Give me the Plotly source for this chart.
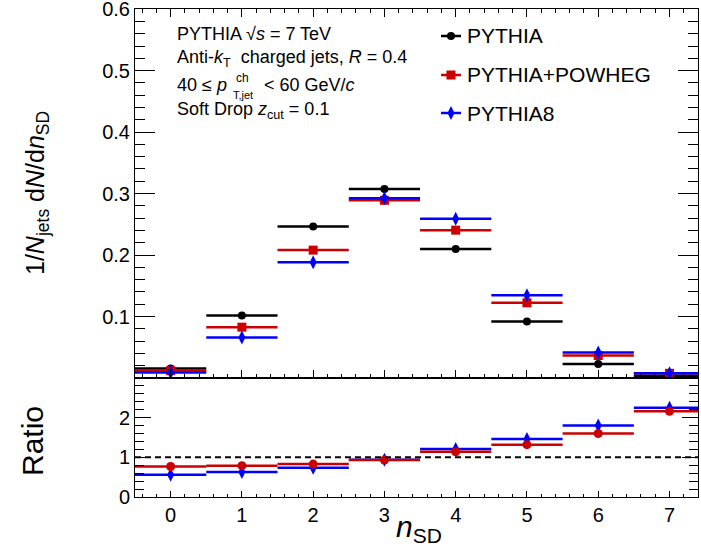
import plotly.graph_objects as go

# ---------------- data ----------------
n_sd = [0, 1, 2, 3, 4, 5, 6, 7]
bin_half_width = [0.5] * 8
pythia = [0.0155, 0.1016, 0.2464, 0.3076, 0.2100, 0.0919, 0.0226, 0.0035]
pythia_powheg = [0.0120, 0.0827, 0.2080, 0.2890, 0.2405, 0.1223, 0.0366, 0.0076]
pythia8 = [0.0090, 0.0659, 0.1884, 0.2925, 0.2589, 0.1348, 0.0415, 0.0079]
ratio_powheg = [0.77, 0.79, 0.83, 0.93, 1.14, 1.32, 1.60, 2.16]
ratio_pythia8 = [0.56, 0.63, 0.74, 0.94, 1.21, 1.46, 1.80, 2.25]
upper_ticks = [0.1, 0.2, 0.3, 0.4, 0.5, 0.6]
upper_ticktext = ["0.1", "0.2", "0.3", "0.4", "0.5", "0.6"]
ratio_ticks = [0, 1, 2]
legend_names = ["PYTHIA", "PYTHIA+POWHEG", "PYTHIA8"]

# ---------------- layout geometry ----------------
W, H = 701, 554
L, R, T, B = 135, 3, 9, 57
PW, PH = W - L - R, H - T - B
SPLIT = 378
split_dom = (H - B - SPLIT) / PH
FONT = "Liberation Sans, Arial, Helvetica, sans-serif"

BLACK = "#000000"
RED = "#cc0000"
BLUE = "#0000ff"


def px(x):
    return (x - L) / PW


def py(y):
    return (H - B - y) / PH


fig = go.Figure()


def add_series(x, y, color, symbol, size, xa, ya, lw=2.5):
    fig.add_trace(go.Scatter(
        x=x, y=y, mode="markers",
        marker=dict(symbol=symbol, size=size, color=color, line=dict(width=0)),
        error_x=dict(type="data", array=bin_half_width, width=0, thickness=lw, color=color),
        xaxis=xa, yaxis=ya, showlegend=False, cliponaxis=True,
    ))


# upper panel
add_series(n_sd, pythia, BLACK, "circle", 8, "x", "y")
add_series(n_sd, pythia_powheg, RED, "square", 9, "x", "y")
add_series(n_sd, pythia8, BLUE, "diamond-tall", 10, "x", "y")
# ratio panel
add_series(n_sd, ratio_pythia8, BLUE, "diamond-tall", 10, "x2", "y2")
add_series(n_sd, ratio_powheg, RED, "circle", 9, "x2", "y2")

# legend (manual, in pixel overlay axes)
leg_y = [36, 75, 113]
leg_cols = [BLACK, RED, BLUE]
leg_sym = ["circle", "square", "diamond-tall"]
leg_size = [8, 9, 10]
for yy, c, s, sz in zip(leg_y, leg_cols, leg_sym, leg_size):
    fig.add_trace(go.Scatter(x=[441, 461], y=[yy, yy], mode="lines",
                             line=dict(color=c, width=2.5), xaxis="x3", yaxis="y3",
                             showlegend=False, hoverinfo="skip"))
    fig.add_trace(go.Scatter(x=[451], y=[yy], mode="markers",
                             marker=dict(symbol=s, size=sz, color=c), xaxis="x3", yaxis="y3",
                             showlegend=False, hoverinfo="skip"))

ax_common = dict(showline=True, linecolor="black", linewidth=1, showgrid=False, zeroline=False,
                 tickcolor="black", tickwidth=1, automargin=False,
                 tickfont=dict(family=FONT, size=20, color="black"))

fig.update_layout(
    width=W, height=H, autosize=False,
    margin=dict(l=L, r=R, t=T, b=B, pad=0, autoexpand=False),
    paper_bgcolor="white", plot_bgcolor="rgba(0,0,0,0)",
    font=dict(family=FONT, color="black"),
    showlegend=False,
    xaxis=dict(domain=[0, 1], anchor="y", range=[-0.5, 7.4], showticklabels=False,
               ticks="inside", ticklen=8, tick0=0, dtick=1, mirror="ticks",
               minor=dict(ticks="inside", ticklen=4, tick0=0, dtick=0.2, tickcolor="black"),
               **ax_common),
    yaxis=dict(domain=[split_dom, 1], anchor="x", range=[0, 0.6002],
               tickmode="array", tickvals=upper_ticks, ticktext=upper_ticktext,
               ticks="inside", ticklen=20, mirror="ticks", ticklabeloverflow="allow",
               minor=dict(ticks="inside", ticklen=10, tickmode="linear", tick0=0, dtick=0.02,
                          tickcolor="black"),
               **ax_common),
    xaxis2=dict(domain=[0, 1], anchor="y2", range=[-0.5, 7.4], matches="x",
                tickmode="array", tickvals=n_sd, ticktext=[str(v) for v in n_sd],
                ticks="inside", ticklen=6, mirror=True, ticklabeloverflow="allow",
                minor=dict(ticks="inside", ticklen=3, tickmode="linear", tick0=0, dtick=0.2,
                           tickcolor="black"),
                **ax_common),
    yaxis2=dict(domain=[0, split_dom], anchor="x2", range=[0, 3],
                tickmode="array", tickvals=ratio_ticks, ticktext=[str(v) for v in ratio_ticks],
                ticks="inside", ticklen=16, mirror="ticks", ticklabeloverflow="allow",
                minor=dict(ticks="inside", ticklen=9, tickmode="linear", tick0=0, dtick=0.2,
                           tickcolor="black"),
                **ax_common),
    xaxis3=dict(domain=[0, 1], anchor="y3", range=[L, W - R], visible=False, fixedrange=True,
                automargin=False),
    yaxis3=dict(domain=[0, 1], anchor="x3", range=[H - B, T], visible=False, fixedrange=True,
                automargin=False),
)

# dashed line at ratio = 1
fig.add_shape(type="line", xref="x2 domain", yref="y2", x0=0, x1=1, y0=1, y1=1,
              line=dict(color="black", width=2, dash="6px,4px"))

ann = []


def text(x, y, s, size, xanchor="left", yanchor="middle", angle=0):
    ann.append(dict(x=px(x), y=py(y), xref="paper", yref="paper", text=s, showarrow=False,
                    xanchor=xanchor, yanchor=yanchor, textangle=angle,
                    font=dict(family=FONT, size=size, color="black")))


# info text block
text(175, 34, "PYTHIA √<i>s</i> = 7 TeV", 18)
text(175, 59, "Anti-<i>k</i><sub>T</sub>  charged jets, <i>R</i> = 0.4", 18)
text(175, 85, "40 ≤ <i>p</i>", 18)
text(234, 78, "ch", 12)
text(231, 95, "T,jet", 11)
text(262, 85, "< 60 GeV/<i>c</i>", 18)
text(175, 111, "Soft Drop <i>z</i><sub>cut</sub> = 0.1", 18)

# legend text
for yy, name in zip(leg_y, legend_names):
    text(465, yy, name, 21)

# axis titles
text(37, 193, "1/<i>N</i><sub>jets</sub> d<i>N</i>/d<i>n</i><sub>SD</sub>", 25,
     xanchor="center", angle=-90)
text(32, 441, "Ratio", 30, xanchor="center", angle=-90)
text(419, 528, "<i>n</i><sub>SD</sub>", 30, xanchor="center")

fig.update_layout(annotations=ann)

fig.write_html("out.html", config={"displayModeBar": False},
               post_script="document.body.style.margin='0';")
